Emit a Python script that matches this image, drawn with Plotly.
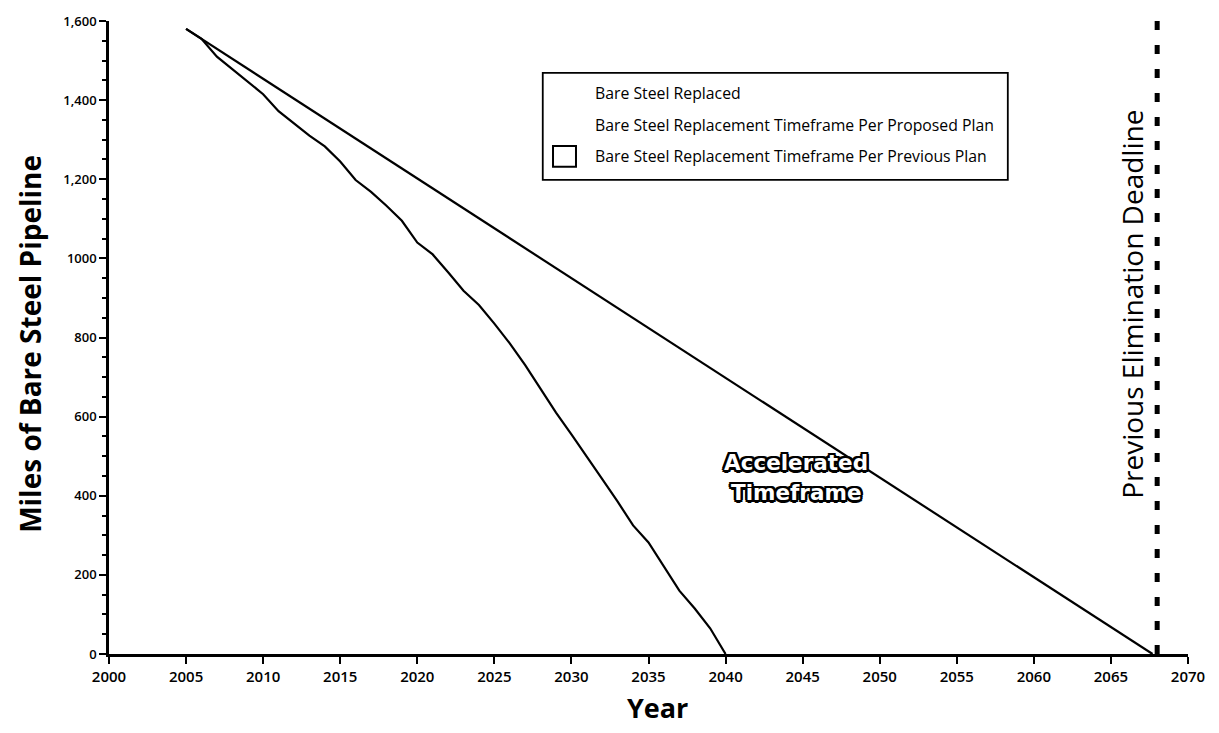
import plotly.graph_objects as go

# Accelerated replacement schedule (proposed plan), miles remaining by year
accel_years = [2005, 2006, 2007, 2008, 2009, 2010, 2011, 2012, 2013, 2014, 2015,
               2016, 2017, 2018, 2019, 2020, 2021, 2022, 2023, 2024, 2025, 2026,
               2027, 2028, 2029, 2030, 2031, 2032, 2033, 2034, 2035, 2036, 2037,
               2038, 2039, 2040]
accel_miles = [1580, 1555, 1510, 1478, 1446, 1415, 1372, 1340, 1310, 1283, 1245,
               1198, 1168, 1133, 1095, 1040, 1010, 965, 918, 882, 835, 785,
               730, 670, 610, 555, 500, 442, 385, 325, 282, 220, 160,
               115, 65, 0]

# Previous plan: straight-line replacement
prev_years = [2005, 2067.7]
prev_miles = [1580, 0]

# Previous elimination deadline
deadline_year = 2068
deadline_span = [0, 1600]

y_tickvals = [0, 200, 400, 600, 800, 1000, 1200, 1400, 1600]
y_ticktext = ["0", "200", "400", "600", "800", "1000", "1,200", "1,400", "1,600"]
x_tickvals = list(range(2000, 2071, 5))

legend_labels = [
    "Bare Steel Replaced",
    "Bare Steel Replacement Timeframe Per Proposed Plan",
    "Bare Steel Replacement Timeframe Per Previous Plan",
]

BLACK = "#000000"
FONT = "Open Sans"

fig = go.Figure()

fig.add_trace(go.Scatter(
    x=accel_years, y=accel_miles, mode="lines",
    line=dict(color=BLACK, width=2.2), showlegend=False, hoverinfo="skip"))

fig.add_trace(go.Scatter(
    x=prev_years, y=prev_miles, mode="lines",
    line=dict(color=BLACK, width=2.2), showlegend=False, hoverinfo="skip"))

fig.add_trace(go.Scatter(
    x=[deadline_year, deadline_year], y=deadline_span, mode="lines",
    line=dict(color=BLACK, width=5, dash="9px,15px"),
    showlegend=False, hoverinfo="skip"))

# Legend box drawn by hand
fig.add_shape(type="rect", xref="paper", yref="paper",
              x0=0.402, x1=0.833, y0=0.749, y1=0.918,
              line=dict(color=BLACK, width=1.8), fillcolor="rgba(0,0,0,0)")
fig.add_shape(type="rect", xref="paper", yref="paper",
              x0=0.4115, x1=0.4328, y0=0.7696, y1=0.8025,
              line=dict(color=BLACK, width=2), fillcolor="white")
for label, yy in zip(legend_labels, [0.887, 0.835, 0.787]):
    fig.add_annotation(xref="paper", yref="paper", x=0.4486, y=yy,
                       text=label, showarrow=False, xanchor="left",
                       yanchor="middle",
                       font=dict(family=FONT, size=15.8, color=BLACK, weight=500))

outline = ("-2px -2px 0 #000, 2px -2px 0 #000, -2px 2px 0 #000, 2px 2px 0 #000, "
           "0 2.5px 0 #000, 0 -2.5px 0 #000, 2.5px 0 0 #000, -2.5px 0 0 #000")
for txt, yy in [("Accelerated", 484), ("Timeframe", 408)]:
    fig.add_annotation(x=2044.6, y=yy, xref="x", yref="y", text=txt,
                       showarrow=False, xanchor="center", yanchor="middle",
                       font=dict(family="DejaVu Sans", size=21.5, color="white",
                                 weight="bold", shadow=outline))

fig.add_annotation(xref="paper", yref="paper", x=0.948, y=0.553,
                   text="Previous Elimination Deadline", textangle=-90,
                   showarrow=False, xanchor="center", yanchor="middle",
                   font=dict(family=FONT, size=28, color=BLACK))

fig.add_annotation(xref="paper", yref="paper", x=-0.0732, y=0.49,
                   text="<b>Miles of Bare Steel Pipeline</b>", textangle=-90,
                   showarrow=False, xanchor="center", yanchor="middle",
                   font=dict(family=FONT, size=28, color=BLACK))

fig.add_annotation(xref="paper", yref="paper", x=0.508, y=-0.0846,
                   text="<b>Year</b>", showarrow=False,
                   xanchor="center", yanchor="middle",
                   font=dict(family=FONT, size=27, color=BLACK))

fig.update_xaxes(range=[2000, 2070], tickvals=x_tickvals, ticks="outside",
                 ticklen=7, tickwidth=2, tickcolor=BLACK, showline=True,
                 linecolor=BLACK, linewidth=2.5, showgrid=False, zeroline=False,
                 tickfont=dict(family=FONT, size=15, color=BLACK, weight=600))
fig.update_yaxes(range=[0, 1600], tickvals=y_tickvals, ticktext=y_ticktext,
                 ticks="outside", ticklen=7, tickwidth=2, tickcolor=BLACK,
                 showline=True, linecolor=BLACK, linewidth=2.5, showgrid=False,
                 zeroline=False,
                 minor=dict(dtick=50, ticks="outside", ticklen=4, tickwidth=2,
                            tickcolor=BLACK, showgrid=False),
                 tickfont=dict(family=FONT, size=13, color=BLACK, weight=600))

fig.update_layout(width=1219, height=733,
                  margin=dict(l=109, r=31, t=16, b=79),
                  plot_bgcolor="white", paper_bgcolor="white",
                  showlegend=False)

fig.write_html("out.html")
